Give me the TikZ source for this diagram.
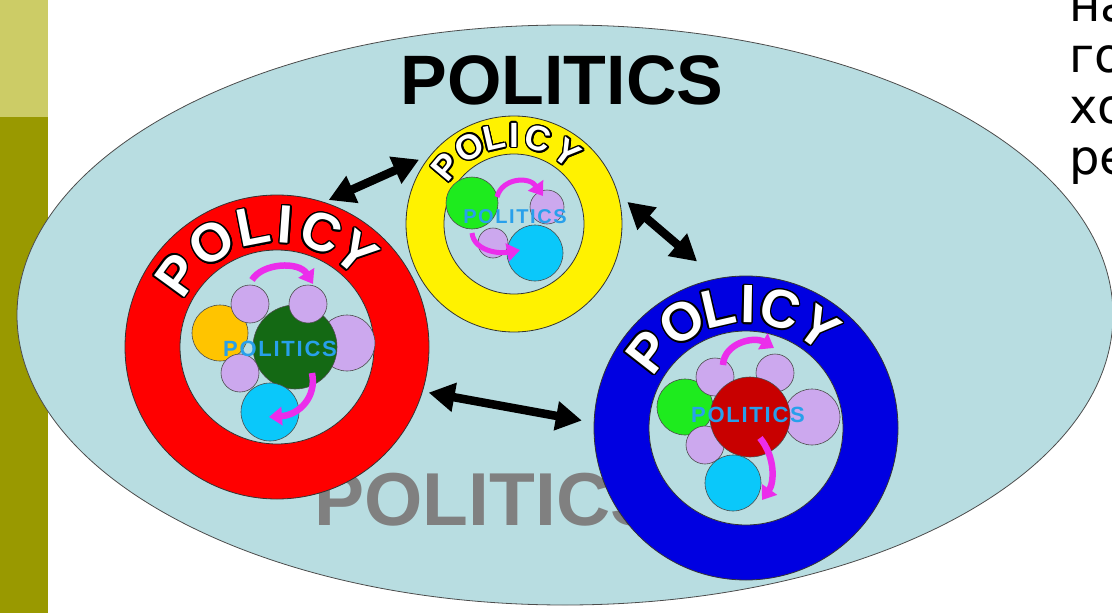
\documentclass[tikz,border=0pt]{standalone}
\usepackage{fontspec}
\newfontfamily\arialf{Liberation Sans}
\newfontfamily\verdf{DejaVu Sans}
\usepackage[copies]{contour}
\contourlength{1.5pt}
\usetikzlibrary{positioning,arrows.meta,shapes.geometric}
\definecolor{barlight}{RGB}{204,204,102}
\definecolor{bardark}{RGB}{153,153,0}
\definecolor{sea}{RGB}{184,221,225}
\definecolor{lav}{RGB}{204,168,238}
\definecolor{sky}{RGB}{10,200,250}
\definecolor{leaf}{RGB}{20,105,20}
\definecolor{lime}{RGB}{30,235,30}
\definecolor{gold}{RGB}{255,196,0}
\definecolor{wine}{RGB}{200,0,0}
\definecolor{pink}{RGB}{235,45,235}
\definecolor{ink}{RGB}{40,160,235}
\definecolor{royal}{RGB}{0,0,225}

\begin{document}
\begin{tikzpicture}[x=1pt, y=-1pt,
  ring/.style={circle, draw=black!80, line width=0.8pt, inner sep=0pt},
  hole/.style={circle, draw=black!80, line width=0.8pt, fill=sea, inner sep=0pt},
  bub/.style={circle, draw=black!70, line width=0.6pt, inner sep=0pt},
  lett/.style={font=\arialf\bfseries\fontsize{54}{54}\selectfont, text=white, inner sep=0pt},
  slett/.style={font=\arialf\bfseries\fontsize{35}{35}\selectfont, text=white, inner sep=0pt},
  small/.style={font=\arialf\bfseries\fontsize{22}{22}\selectfont\addfontfeatures{LetterSpace=8}, text=ink, inner sep=0pt},
  dbl/.style={{Triangle[length=26pt,width=28pt]}-{Triangle[length=26pt,width=28pt]}, line width=8.5pt, black},
  swirl/.style={-{Triangle[length=13pt,width=18pt]}, line width=6.5pt, pink},
]
\useasboundingbox (0,0) rectangle (1112,613);
\clip (0,0) rectangle (1112,613);

% side bar
\fill[barlight] (0,0) rectangle (48,117);
\fill[bardark] (0,117) rectangle (48,613);

% the big field
\node[ellipse, draw=black!70, line width=0.8pt, fill=sea, minimum width=1096pt,
      minimum height=580pt, inner sep=0pt] (field) at (565,315) {};
\node[font=\arialf\bfseries\fontsize{70}{70}\selectfont] (title) at (562,80) {POLITICS};
\node[font=\arialf\bfseries\fontsize{75}{75}\selectfont, text=black!50, anchor=west] (low) at (311,500) {POLITICS};

% red
\begin{scope}[shift={(277,347)}]
  \node[ring, fill=red, minimum size=304pt] (redring) at (0,0) {};
  \node[hole, minimum size=194pt] (redhole) at (0,0) {};
  \node[bub, fill=gold, minimum size=56pt] (r1) at (-57,-14) {};
  \node[bub, fill=lav, minimum size=56pt] (r2) at (70,-4) {};
  \node[bub, fill=leaf, minimum size=84pt] (r3) at (18,0) {};
  \node[bub, fill=lav, minimum size=38pt] (r4) at (-27,-43) {};
  \node[bub, fill=lav, minimum size=38pt] (r5) at (31,-43) {};
  \node[bub, fill=lav, minimum size=38pt] (r6) at (-37,26) {};
  \node[bub, fill=sky, minimum size=58pt] (r7) at (-7,65) {};
  \draw[swirl] (-25,-67) .. controls (-15,-84) and (22,-86) .. (36,-63);
  \draw[swirl] (35,26) .. controls (40,50) and (22,68) .. (-8,70);
  \node[small] (rtxt) at (3,2) {POLITICS};
  \foreach \ch/\a in {P/144,O/122,L/101,I/86,C/69,Y/50}
    \node[lett, rotate=\a-90] at (-\a:122) {\contour{black}{\ch}};
\end{scope}

% yellow
\begin{scope}[shift={(514,224)}]
  \node[ring, fill=yellow, minimum size=216pt] (yelring) at (0,0) {};
  \node[hole, minimum size=140pt] (yelhole) at (0,0) {};
  \node[bub, fill=lime, minimum size=52pt] (y1) at (-42,-21) {};
  \node[bub, fill=lav, minimum size=34pt] (y2) at (33,-17) {};
  \node[bub, fill=lav, minimum size=30pt] (y3) at (-21,19) {};
  \node[bub, fill=sky, minimum size=56pt] (y4) at (21,29) {};
  \draw[swirl, line width=5pt] (-17,-27) .. controls (-12,-46) and (15,-48) .. (29,-28);
  \draw[swirl, line width=5pt] (-42,9) .. controls (-40,27) and (-15,30) .. (6,26);
  \node[small, font=\arialf\bfseries\fontsize{20}{20}\selectfont\addfontfeatures{LetterSpace=8}] (ytxt) at (1,-7) {POLITICS};
  \foreach \ch/\a in {P/140,O/120,L/103,I/90,C/74,Y/53}
    \node[slett, rotate=\a-90] at (-\a:88) {\contour{black}{\ch}};
\end{scope}

% blue
\begin{scope}[shift={(746,428)}]
  \node[ring, fill=royal, minimum size=304pt] (bluring) at (0,0) {};
  \node[hole, minimum size=194pt] (bluhole) at (0,0) {};
  \node[bub, fill=lime, minimum size=56pt] (b1) at (-61,-21) {};
  \node[bub, fill=lav, minimum size=56pt] (b2) at (66,-11) {};
  \node[bub, fill=lav, minimum size=38pt] (b3) at (-31,-51) {};
  \node[bub, fill=lav, minimum size=38pt] (b4) at (29,-55) {};
  \node[bub, fill=lav, minimum size=38pt] (b5) at (-41,17) {};
  \node[bub, fill=wine, minimum size=80pt] (b6) at (4,-11) {};
  \node[bub, fill=sky, minimum size=56pt] (b7) at (-13,55) {};
  \draw[swirl] (-23,-63) .. controls (-22,-85) and (8,-92) .. (28,-80);
  \draw[swirl] (14,10) .. controls (30,30) and (28,55) .. (16,72);
  \node[small] (btxt) at (2,-13) {POLITICS};
  \foreach \ch/\a in {P/142,O/121,L/103,I/89,C/74,Y/54}
    \node[lett, rotate=\a-90] at (-\a:123) {\contour{black}{\ch}};
\end{scope}

% links
\draw[dbl, shorten <=6pt, shorten >=12pt] (redring.-17) -- (bluring.178);
\draw[dbl, shorten <=12pt, shorten >=26pt] (yelring.16) -- (bluring.101);
\draw[dbl, shorten <=5pt, shorten >=13pt] (redring.72.6) -- (yelring.140.7);

% cut-off text at the right
\node[font=\verdf\fontsize{48}{51}\selectfont, align=left, anchor=north west,
      inner sep=0pt] (note) at (1069,-6) {на\\го\\хо\\ре};
\end{tikzpicture}
\end{document}
